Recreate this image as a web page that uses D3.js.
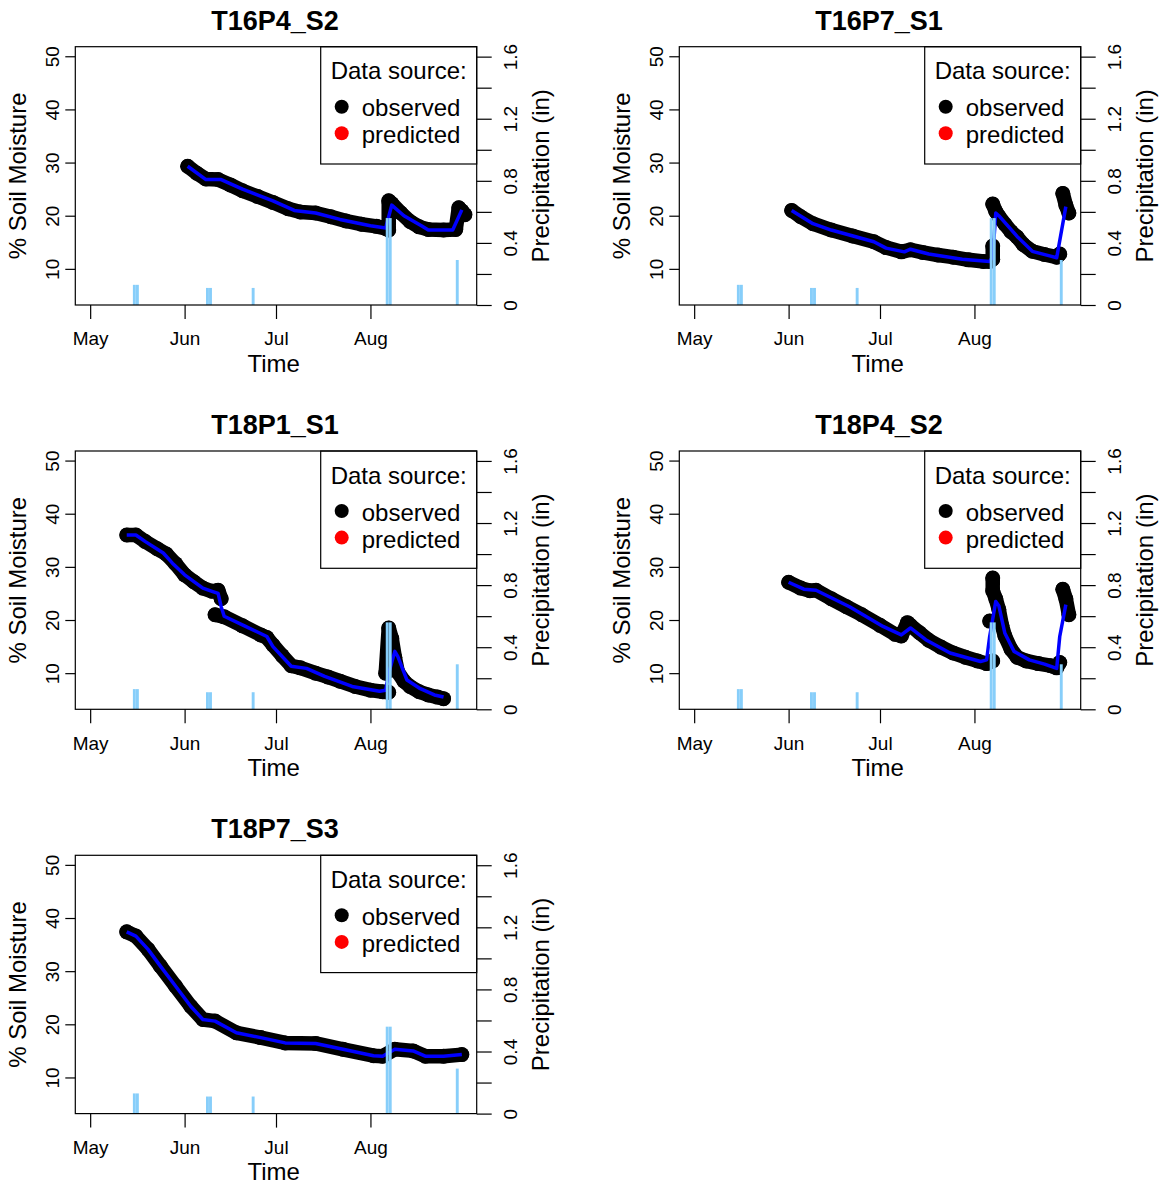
<!DOCTYPE html>
<html>
<head>
<meta charset="utf-8">
<script src="https://cdn.jsdelivr.net/npm/d3@7"></script>
<style>
body { margin: 0; background: #fff; }
text { font-family: "Liberation Sans", Arial, sans-serif; fill: #000; }
</style>
</head>
<body>
<div id="chart"></div>
<script>
// ---- data (dates are 2018, "MM-DD") ----
var siteNames = ["T16P4_S2", "T16P7_S1", "T18P1_S1", "T18P4_S2", "T18P7_S3"];

var monthTicks = ["05-01", "06-01", "07-01", "08-01"];
var xRange = ["05-01", "08-31"];
var moistRange = [5, 50];
var moistTicks = [10, 20, 30, 40, 50];
var precipMax = 1.6;
var precipTicks = [0, 0.2, 0.4, 0.6, 0.8, 1.0, 1.2, 1.4, 1.6];
var precipLabels = [0, 0.4, 0.8, 1.2, 1.6];
var legendLabels = ["observed", "predicted"];

// daily rain totals (in), same station for every panel
var rainDates = ["05-15", "05-16", "06-08", "06-09", "06-23", "08-06", "08-07", "08-29"];
var rainInches = [0.13, 0.13, 0.11, 0.11, 0.11, 0.56, 0.56, 0.29];

// observed soil moisture (%), null = gap in the record
var obsT16P4 = [["06-02",29.3],["06-05",28.0],["06-08",26.9],["06-12",26.8],["06-16",25.8],["06-20",24.7],
    ["06-25",23.6],["06-30",22.5],["07-05",21.3],["07-09",20.7],["07-14",20.5],["07-19",19.8],["07-24",19.0],
    ["07-29",18.4],["08-03",18.0],["08-06",17.6],["08-07",17.3],["08-07",22.8],["08-08",22.3],["08-11",20.5],
    ["08-14",18.9],["08-17",17.9],["08-20",17.4],["08-25",17.3],["08-29",17.4],["08-30",21.5],["08-31",20.9],
    ["09-01",20.2]];
var fitT16P4 = [["06-02",29.3],["06-08",26.8],["06-13",26.8],["06-20",25.0],["06-30",22.8],["07-07",21.0],
    ["07-14",20.5],["07-22",19.3],["08-01",18.1],["08-06",17.7],["08-08",22.0],["08-12",20.0],["08-18",18.0],
    ["08-20",17.3],["08-28",17.3],["08-31",21.1]];

var obsT16P7 = [["06-02",21.0],["06-05",19.8],["06-09",18.5],["06-15",17.3],["06-22",16.2],["06-29",15.1],
    ["07-03",14.0],["07-08",13.2],["07-11",13.6],["07-15",13.1],["07-20",12.6],["07-25",12.2],["07-30",11.7],
    ["08-04",11.4],["08-06",11.4],["08-07",11.8],["08-07",14.3],["08-07",null],["08-07",22.2],["08-08",20.8],
    ["08-09",19.9],["08-11",18.4],["08-13",17.0],["08-15",16.0],["08-17",14.6],["08-20",13.3],["08-24",12.7],
    ["08-28",12.2],["08-29",12.8],["08-29",null],["08-30",24.2],["08-31",22.0],["09-01",20.5]];
var fitT16P7 = [["06-02",21.0],["06-09",18.5],["06-15",17.3],["06-29",15.1],["07-03",13.9],["07-09",13.2],
    ["07-11",13.7],["07-17",12.8],["07-28",11.8],["08-06",11.4],["08-07",12.3],["08-08",20.5],["08-09",20.0],
    ["08-15",16.1],["08-20",13.3],["08-26",12.4],["08-28",12.1],["08-31",21.7]];

var obsT18P1 = [["05-13",36.0],["05-16",36.0],["05-19",34.8],["05-23",33.4],["05-26",32.4],["05-29",30.6],
    ["06-01",28.5],["06-04",27.2],["06-07",26.0],["06-10",25.4],["06-12",25.6],["06-13",24.0],["06-13",null],
    ["06-11",21.0],["06-14",20.6],["06-20",18.9],["06-26",17.2],["06-28",16.7],["06-30",15.3],["07-03",13.3],
    ["07-06",11.4],["07-09",11.0],["07-14",10.0],["07-18",9.3],["07-22",8.5],["07-27",7.5],["08-01",6.8],
    ["08-05",6.5],["08-07",6.4],["08-07",null],["08-06",10.0],["08-07",18.5],["08-08",16.5],["08-09",13.0],
    ["08-10",10.2],["08-12",8.5],["08-14",7.5],["08-17",6.5],["08-20",5.9],["08-23",5.5],["08-25",5.2]];
var fitT18P1 = [["05-13",36.0],["05-16",36.0],["05-19",34.8],["05-25",32.6],["05-28",30.7],["06-01",28.5],
    ["06-07",26.0],["06-10",25.4],["06-12",25.0],["06-13",22.5],["06-14",20.7],["06-21",18.8],["06-28",16.9],
    ["06-30",15.0],["07-06",11.3],["07-11",10.9],["07-17",9.4],["07-26",7.5],["08-04",6.6],["08-06",6.8],
    ["08-07",10.0],["08-09",14.1],["08-10",13.1],["08-13",8.7],["08-17",7.2],["08-22",5.9],["08-25",5.5]];

var obsT18P4 = [["06-01",27.1],["06-05",26.0],["06-08",25.5],["06-10",25.6],["06-15",24.0],["06-20",22.5],
    ["06-25",21.0],["07-01",19.0],["07-06",17.3],["07-08",17.0],["07-10",19.5],["07-11",19.0],["07-14",17.6],
    ["07-17",16.2],["07-21",14.9],["07-25",13.8],["07-29",13.0],["08-02",12.3],["08-05",11.8],["08-07",12.3],
    ["08-07",null],["08-06",19.8],["08-06",null],["08-07",27.9],["08-07",25.5],["08-08",24.0],["08-09",22.0],
    ["08-10",19.0],["08-11",17.0],["08-13",14.5],["08-15",13.0],["08-18",12.3],["08-22",11.8],["08-26",11.4],
    ["08-28",11.0],["08-29",12.0],["08-29",null],["08-30",25.8],["08-31",24.0],["09-01",21.0]];
var fitT18P4 = [["06-01",27.1],["06-06",25.8],["06-10",25.6],["06-21",22.5],["07-02",18.8],["07-08",17.2],
    ["07-11",18.5],["07-16",16.3],["07-24",13.8],["08-03",12.2],["08-05",12.5],["08-06",16.9],["08-08",23.5],
    ["08-09",22.7],["08-11",17.5],["08-14",14.1],["08-19",12.5],["08-24",11.7],["08-28",10.9],["08-29",16.9],
    ["08-31",22.9]];

var obsT18P7 = [["05-13",37.4],["05-16",36.6],["05-20",34.1],["05-24",31.0],["05-29",27.2],["06-03",23.4],
    ["06-07",20.9],["06-11",20.6],["06-18",18.4],["06-26",17.5],["07-04",16.5],["07-14",16.4],["07-23",15.3],
    ["08-02",14.1],["08-05",14.0],["08-09",15.3],["08-15",15.0],["08-19",14.0],["08-25",14.0],["08-31",14.3]];
var fitT18P7 = obsT18P7;

var obsSeries = [obsT16P4, obsT16P7, obsT18P1, obsT18P4, obsT18P7];
var fitSeries = [fitT16P4, fitT16P7, fitT18P1, fitT18P4, fitT18P7];

// ---- layout ----
var width = 1163, height = 1185;
var box = {left: 75.3, top: 46.7, w: 401.4, h: 258.3};
var colStep = 604, rowStep = 404.3;
var legendW = 156, legendH = 117.3;

var parseDay = d3.timeParse("%Y-%m-%d");
function toDate(s){ return parseDay("2018-" + s); }

var svg = d3.select("#chart").append("svg")
    .attr("width", width)
    .attr("height", height);

var xStart = toDate(xRange[0]), xEnd = toDate(xRange[1]);
var xPad = (xEnd - xStart) * 0.04;
var x = d3.scaleTime()
    .domain([new Date(+xStart - xPad), new Date(+xEnd + xPad)])
    .range([0, box.w]);
var yPad = (moistRange[1] - moistRange[0]) * 0.04;
var y = d3.scaleLinear()
    .domain([moistRange[0] - yPad, moistRange[1] + yPad])
    .range([box.h, 0]);
var yP = d3.scaleLinear()
    .domain([0, precipMax * 1.04])
    .range([box.h, 0]);

var rain = rainDates.map(function(d, i){
    // daily totals plotted at midday
    return [d3.timeHour.offset(toDate(d), 12), rainInches[i]];
});

function drawPanel(name, i){
    var g = svg.append("g")
        .attr("transform", "translate(" + (box.left + (i % 2) * colStep) + "," +
            (box.top + Math.floor(i / 2) * rowStep) + ")");

    var obs = obsSeries[i].map(function(d){ return [toDate(d[0]), d[1]]; });
    var fit = fitSeries[i].map(function(d){ return [toDate(d[0]), d[1]]; });

    var line = d3.line()
        .defined(function(d){ return d[1] != null; })
        .x(function(d){ return x(d[0]); })
        .y(function(d){ return y(d[1]); });

    // observed: dense points, drawn as a fat band plus dots
    g.append("path")
        .datum(obs)
        .attr("fill", "none")
        .attr("stroke", "#000")
        .attr("stroke-width", 14.5)
        .attr("stroke-linejoin", "round")
        .attr("stroke-linecap", "round")
        .attr("d", line);

    g.selectAll(".obs-dot")
        .data(obs.filter(function(d){ return d[1] != null; }))
        .enter()
        .append("circle")
            .attr("class", "obs-dot")
            .attr("cx", function(d){ return x(d[0]); })
            .attr("cy", function(d){ return y(d[1]); })
            .attr("r", 7.5)
            .attr("fill", "#000");

    // model line
    g.append("path")
        .datum(fit)
        .attr("fill", "none")
        .attr("stroke", "#0000ff")
        .attr("stroke-width", 3.5)
        .attr("stroke-linejoin", "round")
        .attr("d", line);

    // precipitation (type = "h")
    g.selectAll(".rain")
        .data(rain)
        .enter()
        .append("line")
            .attr("class", "rain")
            .attr("x1", function(d){ return x(d[0]); })
            .attr("x2", function(d){ return x(d[0]); })
            .attr("y1", yP(0))
            .attr("y2", function(d){ return yP(d[1]); })
            .attr("stroke", "#87cefa")
            .attr("stroke-width", 2.9);

    // bottom axis
    var xAxis = g.append("g")
        .attr("transform", "translate(0," + box.h + ")")
        .call(d3.axisBottom(x)
            .tickValues(monthTicks.map(toDate))
            .tickFormat(d3.timeFormat("%b"))
            .tickSize(14)
            .tickPadding(13));
    xAxis.select(".domain").remove();
    xAxis.selectAll("text").attr("font-size", 19).attr("font-family", null);

    // left axis
    var yAxis = g.append("g")
        .call(d3.axisLeft(y).tickValues(moistTicks).tickSize(10));
    yAxis.select(".domain").remove();
    yAxis.selectAll("text")
        .attr("x", 0).attr("dy", 0)
        .attr("text-anchor", "middle")
        .attr("font-size", 19).attr("font-family", null)
        .attr("transform", "translate(-16.8,0) rotate(-90)");

    // right axis (precip)
    var pAxis = g.append("g")
        .attr("transform", "translate(" + box.w + ",0)")
        .call(d3.axisRight(yP)
            .tickValues(precipTicks)
            .tickSize(15)
            .tickFormat(function(d){ return precipLabels.indexOf(d) >= 0 ? String(d) : ""; }));
    pAxis.select(".domain").remove();
    pAxis.selectAll("text")
        .attr("x", 0).attr("dy", 0)
        .attr("text-anchor", "middle")
        .attr("font-size", 19).attr("font-family", null)
        .attr("transform", "translate(39.8,0) rotate(-90)");

    g.selectAll(".tick line").attr("stroke", "#000").attr("stroke-width", 1.2);

    // legend (top right, white fill)
    var lg = g.append("g").attr("transform", "translate(" + (box.w - legendW) + ",0)");
    lg.append("rect")
        .attr("width", legendW)
        .attr("height", legendH)
        .attr("fill", "#fff")
        .attr("stroke", "#000")
        .attr("stroke-width", 1.2);
    lg.append("text")
        .attr("x", legendW / 2)
        .attr("y", 32.6)
        .attr("text-anchor", "middle")
        .attr("font-size", 24)
        .text("Data source:");
    lg.selectAll(".lg-dot")
        .data(legendLabels)
        .enter()
        .append("circle")
            .attr("cx", 21)
            .attr("cy", function(d, k){ return 60 + k * 26.6; })
            .attr("r", 7)
            .attr("fill", function(d, k){ return k == 0 ? "#000" : "#ff0000"; });
    lg.selectAll(".lg-text")
        .data(legendLabels)
        .enter()
        .append("text")
            .attr("x", 41)
            .attr("y", function(d, k){ return 69.6 + k * 27.2; })
            .attr("font-size", 24)
            .text(function(d){ return d; });

    // plot box
    g.append("rect")
        .attr("width", box.w)
        .attr("height", box.h)
        .attr("fill", "none")
        .attr("stroke", "#000")
        .attr("stroke-width", 1.2);

    // titles and axis labels
    g.append("text")
        .attr("x", box.w / 2 - 1)
        .attr("y", -17.2)
        .attr("text-anchor", "middle")
        .attr("font-size", 27)
        .attr("font-weight", "bold")
        .text(name);

    g.append("text")
        .attr("x", box.w / 2 - 2.3)
        .attr("y", 325)
        .attr("text-anchor", "middle")
        .attr("font-size", 24)
        .text("Time");

    g.append("text")
        .attr("transform", "translate(-49.8," + (box.h / 2) + ") rotate(-90)")
        .attr("text-anchor", "middle")
        .attr("font-size", 24)
        .text("% Soil Moisture");

    g.append("text")
        .attr("transform", "translate(" + (box.w + 72.2) + "," + (box.h / 2) + ") rotate(-90)")
        .attr("text-anchor", "middle")
        .attr("font-size", 24)
        .text("Precipitation (in)");
}

siteNames.forEach(drawPanel);
</script>
</body>
</html>
